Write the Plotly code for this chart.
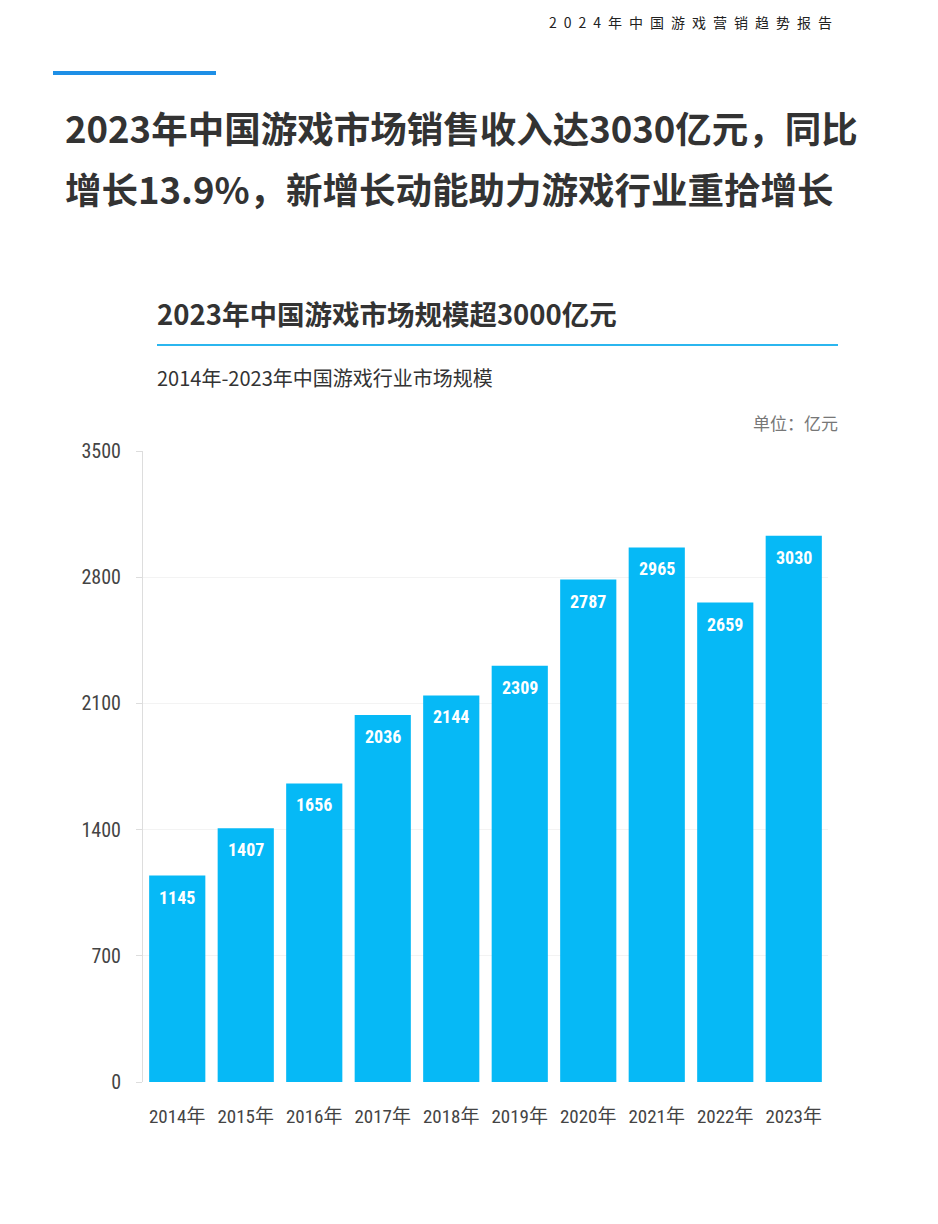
import plotly.graph_objects as go

years = ["2014年", "2015年", "2016年", "2017年", "2018年", "2019年", "2020年", "2021年", "2022年", "2023年"]
values = [1145, 1407, 1656, 2036, 2144, 2309, 2787, 2965, 2659, 3030]
y_ticks = [0, 700, 1400, 2100, 2800, 3500]

OFF = 8  # page body margin
W, H = 938 - OFF, 1224 - OFF
# plot area in page pixels: left 143, right 828, top 451, bottom 1082
L, R, T, B = 143 - OFF, 110, 451 - OFF, 142

BAR = "#06b9f6"
NARROW = "Roboto Condensed, DejaVu Sans Condensed, Liberation Sans Narrow, Noto Sans CJK SC, sans-serif"
CJK = "Noto Sans CJK SC, sans-serif"

fig = go.Figure()
fig.add_trace(go.Bar(x=years, y=values, marker=dict(color=BAR, line=dict(width=0)),
                     hoverinfo="x+y"))

for yr, v in zip(years, values):
    fig.add_annotation(x=yr, y=v, xref="x", yref="y", text=f"<b>{v}</b>",
                       showarrow=False, yanchor="top", yshift=-9,
                       font=dict(family=NARROW, size=18, color="white"))

PW = 828 - 143
PH = 1082 - 451
def px(x): return (x - 143) / PW
def py(y): return (1082 - y) / PH

# header
fig.add_annotation(xref="paper", yref="paper", x=px(834), y=py(22), xanchor="right", yanchor="middle",
                   text="2\u20020\u20022\u20024\u2002年\u2002中\u2002国\u2002游\u2002戏\u2002营\u2002销\u2002趋\u2002势\u2002报\u2002告",
                   showarrow=False, font=dict(family=CJK, size=14, color="#222"))
# main title
fig.add_annotation(xref="paper", yref="paper", x=px(63), y=py(128), xanchor="left", yanchor="middle",
                   text="<b>2023年中国游戏市场销售收入达3030亿元，同比</b>",
                   showarrow=False, font=dict(family=CJK, size=36.5, color="#333"))
fig.add_annotation(xref="paper", yref="paper", x=px(63), y=py(188), xanchor="left", yanchor="middle",
                   text="<b>增长13.9%，新增长动能助力游戏行业重拾增长</b>",
                   showarrow=False, font=dict(family=CJK, size=36.5, color="#333"))
# subtitle
fig.add_annotation(xref="paper", yref="paper", x=px(155), y=py(313), xanchor="left", yanchor="middle",
                   text="<b>2023年中国游戏市场规模超3000亿元</b>",
                   showarrow=False, font=dict(family=CJK, size=27.5, color="#333"))
fig.add_annotation(xref="paper", yref="paper", x=px(155), y=py(377), xanchor="left", yanchor="middle",
                   text="2014年-2023年中国游戏行业市场规模",
                   showarrow=False, font=dict(family=CJK, size=20, color="#333"))
fig.add_annotation(xref="paper", yref="paper", x=px(840), y=py(422), xanchor="right", yanchor="middle",
                   text="单位：亿元",
                   showarrow=False, font=dict(family=CJK, size=17, color="#777"))

# decorative lines
fig.add_shape(type="line", xref="paper", yref="paper", x0=px(53), x1=px(216), y0=py(73), y1=py(73),
              line=dict(color="#1e8fe6", width=4))
fig.add_shape(type="line", xref="paper", yref="paper", x0=px(157), x1=px(838), y0=py(345), y1=py(345),
              line=dict(color="#2bb6ef", width=2))

fig.update_layout(
    width=W, height=H, margin=dict(l=L, r=R, t=T, b=B, autoexpand=False),
    paper_bgcolor="white", plot_bgcolor="white", showlegend=False,
    bargap=0.18,
    xaxis=dict(showgrid=False, showline=False, ticks="", ticklabelstandoff=21,
               tickfont=dict(family=NARROW, size=19, color="#444")),
    yaxis=dict(range=[0, 3500], tickvals=y_ticks, showgrid=True, gridcolor="#f3f3f3", gridwidth=1,
               showline=True, linecolor="#dddddd", linewidth=1, ticks="outside", ticklen=6,
               tickcolor="#dddddd", zeroline=False, ticklabelstandoff=11,
               tickfont=dict(family=NARROW, size=20, color="#444")),
)

fig.write_html("out.html")
